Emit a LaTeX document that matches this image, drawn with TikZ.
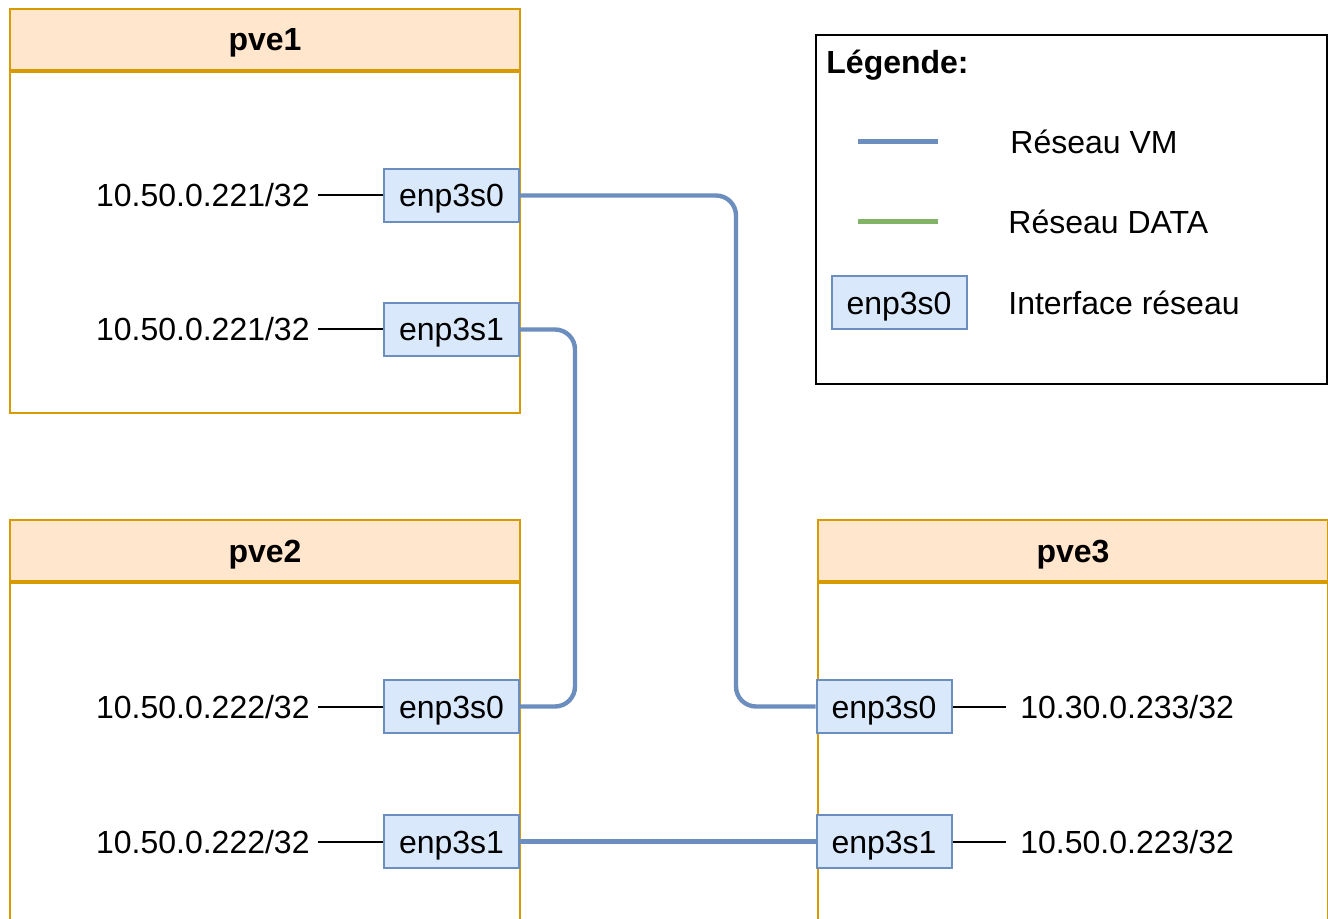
\documentclass[tikz,border=0pt]{standalone}
\usepackage{fontspec}
\setmainfont{Liberation Sans}
\usepackage{xcolor}
\usepackage{tikz}
\usetikzlibrary{arrows.meta, calc, positioning}

\definecolor{hostfill}{HTML}{FFE6CC}
\definecolor{hostline}{HTML}{D79B00}
\definecolor{iffill}{HTML}{DAE8FC}
\definecolor{ifline}{HTML}{6C8EBF}
\definecolor{dataline}{HTML}{82B366}

\begin{document}
\begin{tikzpicture}[
    x=0.5pt, y=-0.5pt,
    every node/.style={font=\fontsize{16}{19}\selectfont,
      text height=11.5pt, text depth=0pt},
    hosthead/.style={draw=hostline, line width=1pt, fill=hostfill,
      minimum width=255pt, minimum height=30.5pt, inner sep=0pt,
      font=\fontsize{16}{19}\selectfont\bfseries},
    hostbody/.style={draw=hostline, line width=1pt, fill=white,
      minimum width=255pt, inner sep=0pt},
    iface/.style={draw=ifline, line width=1pt, fill=iffill,
      minimum width=67.5pt, minimum height=26.5pt, inner sep=0pt},
    ip/.style={inner sep=4pt},
    vmnet/.style={draw=ifline, line width=2.2pt, rounded corners=10pt},
    ipline/.style={draw=black, line width=1pt}
  ]
  \path[use as bounding box, clip] (0,0) rectangle (1328,919);

  % hosts
  \node[hosthead, anchor=north west] (pve1) at (9,8) {pve1};
  \node[hostbody, minimum height=170.5pt, below=0pt of pve1] (pve1b) {};
  \node[hosthead, anchor=north west] (pve2) at (9,519) {pve2};
  \node[hostbody, minimum height=190pt, below=0pt of pve2] (pve2b) {};
  \node[hosthead, anchor=north west] (pve3) at (817,519) {pve3};
  \node[hostbody, minimum height=190pt, below=0pt of pve3] (pve3b) {};

  % interfaces
  \node[iface] (e1s0) at (451.5,195.5) {enp3s0};
  \node[iface] (e1s1) at (451.5,329.5) {enp3s1};
  \node[iface] (e2s0) at (451.5,706.5) {enp3s0};
  \node[iface] (e2s1) at (451.5,841.5) {enp3s1};
  \node[iface] (e3s0) at (884,706.5) {enp3s0};
  \node[iface] (e3s1) at (884,841.5) {enp3s1};

  % addresses
  \node[ip, anchor=east] (ip1a) at (318,195.5) {10.50.0.221/32};
  \node[ip, anchor=east] (ip1b) at (318,329.5) {10.50.0.221/32};
  \node[ip, anchor=east] (ip2a) at (318,706.5) {10.50.0.222/32};
  \node[ip, anchor=east] (ip2b) at (318,841.5) {10.50.0.222/32};
  \node[ip, anchor=west, inner xsep=7pt] (ip3a) at (1006,706.5) {10.30.0.233/32};
  \node[ip, anchor=west, inner xsep=7pt] (ip3b) at (1006,841.5) {10.50.0.223/32};

  \path[ipline]
    (ip1a) -- (e1s0)
    (ip1b) -- (e1s1)
    (ip2a) -- (e2s0)
    (ip2b) -- (e2s1)
    (e3s0) -- (ip3a)
    (e3s1) -- (ip3b);

  % VM network
  \draw[vmnet] (e1s0.east) -- ++(216,0) |- (e3s0.west);
  \draw[vmnet] (e1s1.east) -- ++(55,0) |- (e2s0.east);
  \draw[vmnet] (e2s1.east) -- (e3s1.west);

  % legend
  \node[draw=black, line width=1pt, fill=white, anchor=north west,
    minimum width=255.5pt, minimum height=174.5pt, inner sep=0pt]
    (leg) at (815,34) {};
  \node[ip, anchor=west, font=\fontsize{16}{19}\selectfont\bfseries]
    (legtitle) at (818,62) {Légende:};
  \draw[ifline, line width=2.5pt] (858,142) -- (938,142);
  \draw[dataline, line width=2.5pt] (858,222) -- (938,222);
  \node[iface] (legif) at (899,303) {enp3s0};
  \node[ip, anchor=west] (legvm) at (1002,142) {Réseau VM};
  \node[ip, anchor=west] (legdata) at (1000,222) {Réseau DATA};
  \node[ip, anchor=west] (legiface) at (1000,303) {Interface réseau};
\end{tikzpicture}
\end{document}
